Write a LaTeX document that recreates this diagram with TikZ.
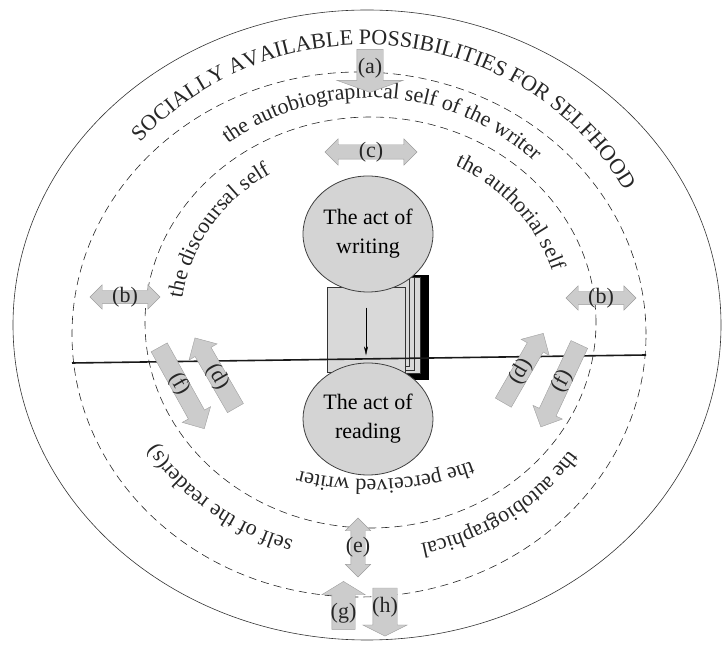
\documentclass[tikz,border=0pt]{standalone}
\usepackage{fontspec}
\setmainfont{Liberation Serif}
\usetikzlibrary{arrows.meta,shapes.geometric,shapes.arrows,decorations.text}

\newcommand{\figfont}{\fontsize{22}{29}\selectfont}
\newcommand{\titlefont}{\fontsize{22}{26}\selectfont}

\begin{document}
\begin{tikzpicture}
  [x=1pt, y=1pt,
  act/.style={ellipse, draw=black!75, fill=black!17, thick, inner sep=0pt,
    font=\figfont, align=center},
  page/.style={rectangle, draw=black!80, fill=black!15, semithick},
  ring/.style={draw=black!85, semithick, dash pattern=on 8pt off 5pt},
  onearrow/.style={single arrow, draw=black!38, fill=black!20, inner sep=0pt},
  twoarrow/.style={double arrow, draw=black!38, fill=black!20, inner sep=0pt},
  tag/.style={font=\figfont, text=black!85, inner sep=0pt},
  curved/.style={decorate, decoration={text along path, text align=center,
    text color=black!85, text={|\figfont|#1}}}]

  \useasboundingbox (0,0) rectangle (722,645);

  % centres of the rings
  \coordinate (outer-c) at (367,320);
  \coordinate (middle-c) at (359,310.5);
  \coordinate (inner-c) at (370.5,322.5);
  \coordinate (title-c) at (365,315);
  \coordinate (band-c) at (370,315);
  \coordinate (low-c) at (365,317);
  \coordinate (line-l) at (72,282);
  \coordinate (line-r) at (646,290);

  \draw[black!80, semithick] (outer-c) ellipse [x radius=354, y radius=315];
  \draw[ring] (middle-c) ellipse [x radius=287, y radius=262.5];
  \draw[ring] (inner-c) ellipse [x radius=225.5, y radius=205.5];

  % the book
  \draw[fill=black] (340,266) rectangle (428,370);
  \draw[page] (350,272) rectangle (420,368);
  \draw[page] (350,275) rectangle (414,368);
  \draw[page] (350,279) rectangle (409,368);
  \node[page, minimum width=78, minimum height=85, inner sep=0pt] (book) at (366,315.5) {};

  \node[act, minimum width=130, minimum height=116] (writing) at (368,411) {The act of\\writing};
  \node[act, minimum width=130, minimum height=112] (reading) at (368,226) {The act of\\reading};

  \draw[-{Stealth[length=9pt,width=4pt]}] ([yshift=-21]book.north) -- ([yshift=17]book.south);
  \draw[black!90, line width=1.6pt] (line-l) -- (line-r);

  % texts on the rings
  \path[decorate, decoration={text along path, text align=center, text color=black!85,
    text={|\titlefont|SOCIALLY AVAILABLE POSSIBILITIES FOR SELFHOOD}}]
    ([shift={(158:298 and 285)}]title-c) arc[start angle=158, end angle=10, x radius=298, y radius=285];
  \path[curved={the autobiographical self of the writer}]
    ([shift={(150:238 and 232)}]band-c) arc[start angle=150, end angle=23, x radius=238, y radius=232];
  \path[curved={the discoursal self}]
    ([shift={(190:190 and 175)}]inner-c) arc[start angle=190, end angle=105, x radius=190, y radius=175];
  \path[curved={the authorial self}]
    ([shift={(82:190 and 175)}]inner-c) arc[start angle=82, end angle=-3, x radius=190, y radius=175];
  \path[curved={the perceived writer}]
    ([shift={(335:215 and 157)}]inner-c) arc[start angle=335, end angle=215, x radius=215, y radius=157];
  \path[curved={self of the reader(s)}]
    ([shift={(280:245 and 222)}]low-c) arc[start angle=280, end angle=182, x radius=245, y radius=222];
  \path[curved={the autobiographical}]
    ([shift={(356:245 and 222)}]low-c) arc[start angle=356, end angle=256, x radius=245, y radius=222];

  % grey arrows
  \node[onearrow, rotate=-90, minimum height=43, inner ysep=13, single arrow head extend=20,
    single arrow tip angle=140] (arra) at (370,576.5) {};
  \node[twoarrow, minimum height=70, inner ysep=6.5, double arrow head extend=5.5] (arrbl) at (125,348) {};
  \node[twoarrow, minimum height=70, inner ysep=6.5, double arrow head extend=5.5] (arrbr) at (601,347) {};
  \node[twoarrow, minimum height=92, inner ysep=7, double arrow head extend=6] (arrc) at (371,493) {};
  \node[onearrow, rotate=-61, minimum height=93, inner ysep=9, single arrow head extend=7] (arrfl) at (179.5,261) {};
  \node[onearrow, rotate=120, minimum height=81, inner ysep=9, single arrow head extend=7] (arrdl) at (217.5,268) {};
  \node[onearrow, rotate=60, minimum height=80, inner ysep=9, single arrow head extend=7] (arrdr) at (521,273) {};
  \node[onearrow, rotate=-115, minimum height=91, inner ysep=9, single arrow head extend=7] (arrfr) at (562,263.5) {};
  \node[twoarrow, rotate=90, minimum height=59, inner ysep=7, double arrow head extend=5.5] (arre) at (358,97.5) {};
  \node[onearrow, rotate=90, minimum height=48, inner ysep=11.5, single arrow head extend=10,
    single arrow tip angle=117] (arrg) at (343.5,36) {};
  \node[onearrow, rotate=-90, minimum height=48, inner ysep=12, single arrow head extend=10,
    single arrow tip angle=127] (arrh) at (385,36) {};

  \node[tag] (taga) at (arra) {(a)};
  \node[tag] (tagbl) at (arrbl) {(b)};
  \node[tag] (tagbr) at (arrbr) {(b)};
  \node[tag] (tagc) at (arrc) {(c)};
  \node[tag, rotate=-60] (tagfl) at (arrfl) {(f)};
  \node[tag, rotate=-60] (tagdl) at (arrdl) {(d)};
  \node[tag, rotate=60] (tagdr) at (arrdr) {(d)};
  \node[tag, rotate=62] (tagfr) at (arrfr) {(f)};
  \node[tag] (tage) at (arre) {(e)};
  \node[tag] (tagg) at ([yshift=-4]arrg) {(g)};
  \node[tag] (tagh) at ([yshift=2]arrh) {(h)};

\end{tikzpicture}
\end{document}
